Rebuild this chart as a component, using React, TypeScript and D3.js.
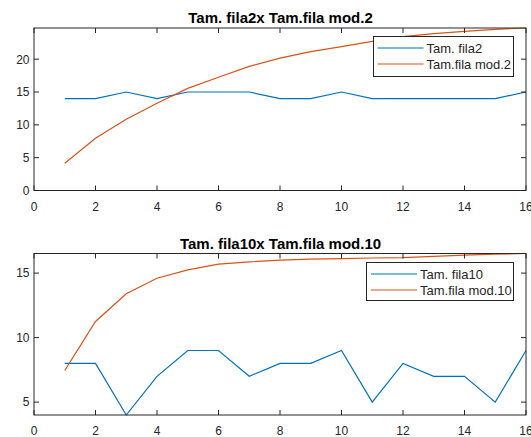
import { useRef, useEffect } from "react";
import * as d3 from "d3";

const xs = d3.range(1, 17);
const xTicks = [0, 2, 4, 6, 8, 10, 12, 14, 16];

const fila2 = [14, 14, 15, 14, 15, 15, 15, 14, 14, 15, 14, 14, 14, 14, 14, 15];
const filaMod2 = [4.15, 7.95, 10.85, 13.3, 15.55, 17.25, 18.9, 20.15, 21.15, 21.9, 22.7, 23.45, 23.9, 24.25, 24.55, 24.75];

const fila10 = [8, 8, 4, 7, 9, 9, 7, 8, 8, 9, 5, 8, 7, 7, 5, 9];
const filaMod10 = [7.45, 11.25, 13.4, 14.6, 15.25, 15.7, 15.87, 16.0, 16.08, 16.13, 16.17, 16.2, 16.3, 16.4, 16.47, 16.52];

const yTicksTop = [0, 5, 10, 15, 20];
const yTicksBottom = [5, 10, 15];

const BLUE = "#0072BD";
const ORANGE = "#D95319";
const AXIS = "#262626";
const FONT = "'Liberation Sans', Arial, sans-serif";

interface PanelCfg {
  title: string;
  top: number;
  bottom: number;
  yDomain: [number, number];
  yTicks: number[];
  a: number[];
  b: number[];
  labels: [string, string];
  legend: { x: number; y: number; w: number; h: number; lx: number };
}

const panels: PanelCfg[] = [
  {
    title: "Tam. fila2x Tam.fila mod.2",
    top: 28,
    bottom: 190.5,
    yDomain: [0, 24.75],
    yTicks: yTicksTop,
    a: fila2,
    b: filaMod2,
    labels: ["Tam. fila2", "Tam.fila mod.2"],
    legend: { x: 373.5, y: 36.5, w: 140, h: 40, lx: 4 },
  },
  {
    title: "Tam. fila10x Tam.fila mod.10",
    top: 253.5,
    bottom: 415,
    yDomain: [4, 16.52],
    yTicks: yTicksBottom,
    a: fila10,
    b: filaMod10,
    labels: ["Tam. fila10", "Tam.fila mod.10"],
    legend: { x: 366.5, y: 262.5, w: 147, h: 38, lx: 4.5 },
  },
];

export default function App() {
  const svgRef = useRef<SVGSVGElement | null>(null);

  useEffect(() => {
    if (!svgRef.current) return;
    const svg = d3.select(svgRef.current);
    svg.selectAll("*").remove();

    const left = 34;
    const right = 526;

    panels.forEach((p) => {
      const x = d3.scaleLinear().domain([0, 16]).range([left, right]);
      const y = d3.scaleLinear().domain(p.yDomain).range([p.bottom, p.top]);
      const g = svg.append("g");

      const line = d3
        .line<number>()
        .x((_, i) => x(xs[i]))
        .y((d) => y(d));

      g.append("path").datum(p.a).attr("fill", "none").attr("stroke", BLUE).attr("stroke-width", 1.2).attr("d", line);
      g.append("path").datum(p.b).attr("fill", "none").attr("stroke", ORANGE).attr("stroke-width", 1.2).attr("d", line);

      // box
      g.append("rect")
        .attr("x", left)
        .attr("y", p.top)
        .attr("width", right - left)
        .attr("height", p.bottom - p.top)
        .attr("fill", "none")
        .attr("stroke", AXIS)
        .attr("stroke-width", 1);

      // ticks point inward on all four sides
      const tl = 5;
      xTicks.forEach((t) => {
        g.append("line").attr("x1", x(t)).attr("x2", x(t)).attr("y1", p.bottom).attr("y2", p.bottom - tl).attr("stroke", AXIS);
        g.append("line").attr("x1", x(t)).attr("x2", x(t)).attr("y1", p.top).attr("y2", p.top + tl).attr("stroke", AXIS);
        g.append("text")
          .attr("x", x(t))
          .attr("y", p.bottom + 20)
          .attr("text-anchor", "middle")
          .attr("font-family", FONT)
          .attr("font-size", 12)
          .attr("fill", AXIS)
          .text(t);
      });

      p.yTicks.forEach((t) => {
        g.append("line").attr("x1", left).attr("x2", left + tl).attr("y1", y(t)).attr("y2", y(t)).attr("stroke", AXIS);
        g.append("line").attr("x1", right).attr("x2", right - tl).attr("y1", y(t)).attr("y2", y(t)).attr("stroke", AXIS);
        g.append("text")
          .attr("x", left - 4.5)
          .attr("y", y(t))
          .attr("dy", "0.36em")
          .attr("text-anchor", "end")
          .attr("font-family", FONT)
          .attr("font-size", 12)
          .attr("fill", AXIS)
          .text(t);
      });

      g.append("text")
        .attr("x", (left + right) / 2 + 0.5)
        .attr("y", p.top - 5)
        .attr("text-anchor", "middle")
        .attr("font-family", FONT)
        .attr("font-size", 15)
        .attr("font-weight", "bold")
        .attr("fill", "#000")
        .text(p.title);

      // legend
      const L = p.legend;
      g.append("rect")
        .attr("x", L.x)
        .attr("y", L.y)
        .attr("width", L.w)
        .attr("height", L.h)
        .attr("fill", "#fff")
        .attr("stroke", AXIS);
      [BLUE, ORANGE].forEach((c, i) => {
        const ry = L.y + 11.5 + i * 16;
        g.append("line")
          .attr("x1", L.x + L.lx)
          .attr("x2", L.x + L.lx + 46)
          .attr("y1", ry)
          .attr("y2", ry)
          .attr("stroke", c)
          .attr("stroke-width", 1.2);
        g.append("text")
          .attr("x", L.x + L.lx + 49)
          .attr("y", ry)
          .attr("dy", "0.36em")
          .attr("font-family", FONT)
          .attr("font-size", 13)
          .attr("fill", AXIS)
          .text(p.labels[i]);
      });
    });
  }, []);

  return (
    <svg
      ref={svgRef}
      width={531}
      height={437}
      viewBox="0 0 531 437"
      style={{ position: "absolute", left: 0, top: 0, background: "#fff" }}
    ></svg>
  );
}
